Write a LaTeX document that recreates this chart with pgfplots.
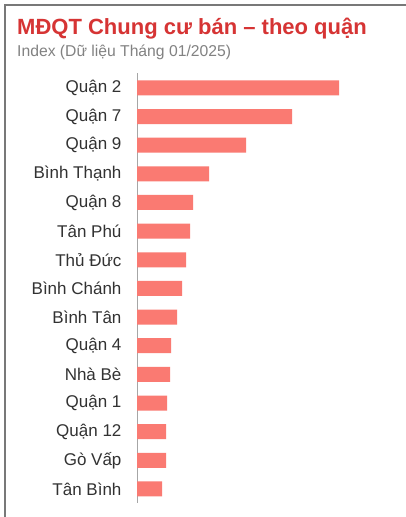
\documentclass[border=0pt]{standalone}
\usepackage{pgfplots}
\pgfplotsset{compat=1.18}
\usepackage{fontspec}
\setmainfont{Liberation Sans}
\definecolor{barsalmon}{RGB}{250,122,114}
\definecolor{titlered}{RGB}{214,52,52}
\definecolor{subgray}{RGB}{130,130,130}
\definecolor{labelgray}{RGB}{50,50,50}
\definecolor{framegray}{RGB}{120,120,120}
\begin{document}
\begin{tikzpicture}
\useasboundingbox (0,0) rectangle (406pt,517pt);
\fill[white] (0,0) rectangle (406pt,517pt);
% frame (left and top edges only)
\draw[framegray, line width=2pt] (5pt,0) -- (5pt,512pt) -- (406pt,512pt);
% title and subtitle
\node[anchor=base west, inner sep=0pt, text=titlered, font=\fontsize{22}{24}\selectfont\bfseries]
  at (17pt,482pt) {MĐQT Chung cư bán – theo quận};
\node[anchor=base west, inner sep=0pt, text=subgray, font=\fontsize{15.7}{18}\selectfont]
  at (17pt,460pt) {Index (Dữ liệu Tháng 01/2025)};
\begin{axis}[
    at={(137pt,14pt)}, anchor=south west,
    scale only axis,
    width=260pt, height=430pt,
    xbar, bar width=15pt, bar shift=0pt,
    xmin=0, xmax=260,
    ymin=-0.49, ymax=14.52,
    axis x line=none,
    axis y line=left,
    y axis line style={-, draw=gray!70, line width=1pt},
    ytick=data,
    yticklabels={Tân Bình,Gò Vấp,Quận 12,Quận 1,Nhà Bè,Quận 4,Bình Tân,Bình Chánh,Thủ Đức,Tân Phú,Quận 8,Bình Thạnh,Quận 9,Quận 7,Quận 2},
    major tick length=0pt,
    yticklabel style={font=\fontsize{17}{19}\selectfont, text=labelgray, xshift=-12pt},
    clip=false,
]
\addplot[fill=barsalmon, draw=none] coordinates {
  (25,0) (29,1) (29,2) (30,3) (33,4) (34,5) (40,6) (45,7) (49,8)
  (53,9) (56,10) (72,11) (109,12) (155,13) (202,14)
};
\end{axis}
\end{tikzpicture}
\end{document}
